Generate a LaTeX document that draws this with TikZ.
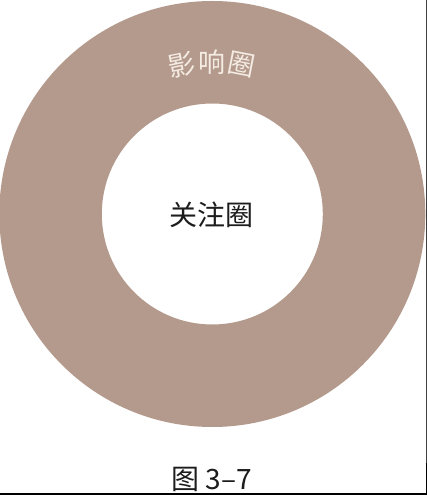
\documentclass[tikz,border=0pt]{standalone}
\usepackage{fontspec}
\usetikzlibrary{calc}
\newfontfamily\cjk{Noto Sans CJK SC}
\definecolor{ringcol}{HTML}{B49A8D}
\definecolor{ringtext}{HTML}{F4EBE2}
\definecolor{darktext}{HTML}{1C1C1C}
\begin{document}
\begin{tikzpicture}[x=1pt,y=1pt,
  ringlabel/.style={text=ringtext,font=\cjk\fontsize{27}{27}\selectfont,inner sep=0pt},
  centerlabel/.style={text=darktext,font=\cjk\fontsize{28}{28}\selectfont,inner sep=0pt},
  captionlabel/.style={text=darktext,font=\cjk\fontsize{28}{28}\selectfont,inner sep=0pt}]
\useasboundingbox (0,0) rectangle (427,495);
\fill[white] (0,0) rectangle (427,495);
\coordinate (c) at (212.3,281);
\fill[ringcol,even odd rule] (c) circle (213) (c) circle (110.5);
\node[ringlabel,rotate=11.5] (t1) at ($(c)+(101.5:152)$) {影};
\node[ringlabel] (t2) at ($(c)+(90:152)$) {响};
\node[ringlabel,rotate=-11] (t3) at ($(c)+(79:152)$) {圈};
\node[centerlabel] (inner) at (211.5,280) {关注圈};
\node[captionlabel] (cap) at (211.5,16) {图 3–7};
\fill[black] (0,0) rectangle (427,2.3);
\fill[black!75] (425.6,32) rectangle (426.6,495);
\fill[black] (425.6,0) rectangle (426.6,32);
\end{tikzpicture}
\end{document}
